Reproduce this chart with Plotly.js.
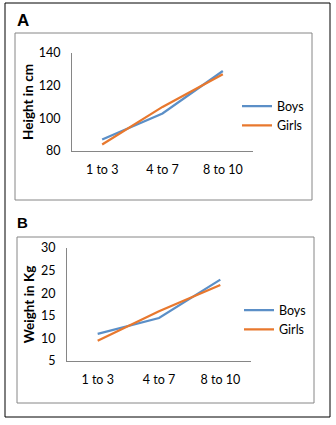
<!DOCTYPE html>
<html>
<head>
<meta charset="utf-8">
<script src="https://cdn.plot.ly/plotly-3.0.1.min.js"></script>
<style>html,body{margin:0;padding:0;background:#fff;}#chart{width:336px;height:425px;}</style>
</head>
<body>
<div id="chart"></div>
<script>
const ageGroups = ["1 to 3", "4 to 7", "8 to 10"];
const heightBoys = [87, 103, 129];
const heightGirls = [84, 107, 127];
const weightBoys = [11, 14.5, 23];
const weightGirls = [9.5, 16, 21.8];
const heightTicks = [80, 100, 120, 140];
const weightTicks = [5, 10, 15, 20, 25, 30];

const W = 336, H = 425;
const px = x => x / W;
const py = y => 1 - y / H;
const BLUE = "#5B8FC7", ORANGE = "#E8782E";
const FONT = "Lato, 'Open Sans', sans-serif";

const traces = [
  {x: ageGroups, y: heightBoys, name: "Boys", mode: "lines", line: {color: BLUE, width: 2.25}, xaxis: "x", yaxis: "y", legend: "legend"},
  {x: ageGroups, y: heightGirls, name: "Girls", mode: "lines", line: {color: ORANGE, width: 2.25}, xaxis: "x", yaxis: "y", legend: "legend"},
  {x: ageGroups, y: weightBoys, name: "Boys", mode: "lines", line: {color: BLUE, width: 2.25}, xaxis: "x2", yaxis: "y2", legend: "legend2"},
  {x: ageGroups, y: weightGirls, name: "Girls", mode: "lines", line: {color: ORANGE, width: 2.25}, xaxis: "x2", yaxis: "y2", legend: "legend2"}
];

const xBase = {type: "category", range: [-0.5, 2.5], showline: true, linecolor: "#868686", linewidth: 1,
  showgrid: false, zeroline: false, ticks: "", ticklabelstandoff: 7,
  tickfont: {family: FONT, size: 12.5, color: "#000"}, fixedrange: true};
const yBase = {showline: true, linecolor: "#868686", linewidth: 1, showgrid: false, zeroline: false, ticks: "",
  ticklabelstandoff: 8, tickfont: {family: FONT, size: 12.5, color: "#000"}, fixedrange: true};

const legBase = {font: {family: FONT, size: 12.5, color: "#000"}, bgcolor: "rgba(0,0,0,0)", borderwidth: 0,
  xanchor: "left", yanchor: "middle", tracegroupgap: 0, itemwidth: 30};

const layout = {
  width: W, height: H,
  margin: {l: 0, r: 0, t: 0, b: 0},
  paper_bgcolor: "#fff", plot_bgcolor: "rgba(0,0,0,0)",
  font: {family: FONT, size: 12, color: "#000"},
  xaxis: Object.assign({}, xBase, {domain: [px(72), px(253)], anchor: "y"}),
  yaxis: Object.assign({}, yBase, {domain: [py(151), py(53)], range: [80, 140], tickvals: heightTicks, anchor: "x",
    title: {text: "<b>Height in cm</b>", font: {family: FONT, size: 13.5, color: "#000"}, standoff: 2}}),
  xaxis2: Object.assign({}, xBase, {domain: [px(67), px(251)], anchor: "y2"}),
  yaxis2: Object.assign({}, yBase, {domain: [py(361), py(248)], range: [5, 30], tickvals: weightTicks, anchor: "x2",
    title: {text: "<b>Weight in Kg</b>", font: {family: FONT, size: 13.5, color: "#000"}, standoff: 3}}),
  legend: Object.assign({}, legBase, {x: px(237), y: py(116)}),
  legend2: Object.assign({}, legBase, {x: px(239), y: py(320)}),
  shapes: [
    {type: "rect", xref: "paper", yref: "paper", x0: px(5), x1: px(330), y0: py(417), y1: py(3), line: {color: "#000", width: 1}},
    {type: "rect", xref: "paper", yref: "paper", x0: px(15), x1: px(312), y0: py(200), y1: py(33), line: {color: "#868686", width: 1}},
    {type: "rect", xref: "paper", yref: "paper", x0: px(17), x1: px(314), y0: py(403), y1: py(237), line: {color: "#868686", width: 1}}
  ],
  annotations: [
    {text: "<b>A</b>", xref: "paper", yref: "paper", x: px(15), y: py(20), xanchor: "left", yanchor: "middle", showarrow: false,
      font: {family: "'Liberation Sans', Arial, sans-serif", size: 17, color: "#000"}},
    {text: "<b>B</b>", xref: "paper", yref: "paper", x: px(15), y: py(223), xanchor: "left", yanchor: "middle", showarrow: false,
      font: {family: "'Liberation Sans', Arial, sans-serif", size: 15, color: "#000"}}
  ]
};

Plotly.newPlot("chart", traces, layout, {displayModeBar: false, staticPlot: true});
</script>
</body>
</html>
